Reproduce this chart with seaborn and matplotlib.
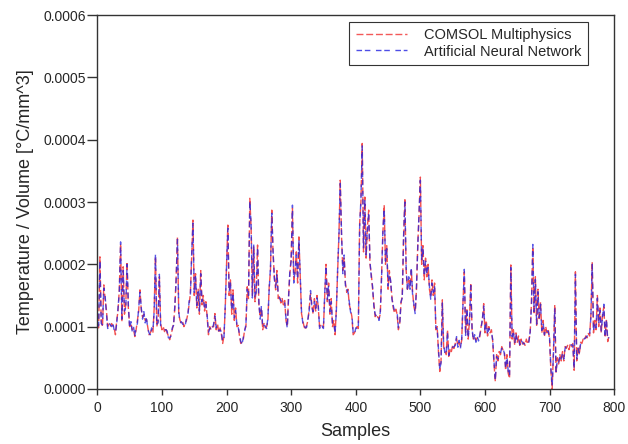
import matplotlib
matplotlib.use("Agg")
import matplotlib.pyplot as plt
import numpy as np
import pandas as pd
import seaborn as sns
from matplotlib.ticker import FormatStrFormatter

SAMPLE_STEP = 2

comsol = [
    1.02, 0.98, 2.12, 1.10, 1.00, 1.67, 1.45, 1.27, 1.00, 1.04,
    1.00, 1.05, 1.02, 0.98, 0.87, 1.10, 1.25, 1.60, 2.33, 1.08,
    1.96, 1.20, 1.35, 2.04, 1.30, 1.00, 1.05, 0.95, 0.97, 0.84,
    0.95, 1.10, 1.25, 1.59, 1.27, 1.15, 1.20, 1.10, 1.12, 1.00,
    0.87, 0.90, 0.95, 0.90, 1.30, 2.12, 1.00, 1.10, 1.80, 1.05,
    0.95, 1.00, 0.92, 0.98, 0.90, 0.85, 0.79, 0.88, 0.95, 1.05,
    1.30, 1.80, 2.44, 1.20, 1.10, 1.05, 1.08, 1.00, 1.05, 1.10,
    1.20, 1.35, 1.53, 2.10, 2.71, 1.50, 1.85, 1.30, 1.60, 1.20,
    1.90, 1.35, 1.50, 1.25, 1.40, 1.15, 0.87, 1.00, 0.95, 1.00,
    1.00, 1.21, 0.95, 1.05, 0.90, 0.98, 0.88, 0.73, 0.85, 1.30,
    2.00, 2.63, 1.50, 1.75, 1.20, 1.59, 1.10, 1.30, 1.00, 1.02,
    0.85, 0.73, 0.75, 0.80, 0.95, 1.00, 1.64, 1.45, 3.06, 2.60,
    1.50, 2.28, 1.40, 1.60, 2.31, 1.35, 1.16, 1.30, 0.95, 1.05,
    0.98, 1.00, 1.10, 1.64, 1.90, 2.87, 2.17, 1.80, 1.59, 1.90,
    1.45, 1.50, 1.38, 1.45, 1.35, 1.42, 1.10, 1.00, 1.50, 1.85,
    2.10, 2.90, 1.75, 1.85, 2.20, 1.70, 2.44, 1.80, 1.21, 1.10,
    1.00, 0.95, 1.02, 1.10, 1.30, 1.53, 1.35, 1.20, 1.45, 1.25,
    1.50, 1.30, 1.00, 1.02, 0.98, 1.00, 1.50, 2.00, 1.40, 1.70,
    1.20, 1.45, 1.00, 1.10, 0.87, 1.30, 1.90, 2.50, 3.35, 2.44,
    1.90, 2.10, 1.70, 1.55, 1.60, 1.35, 1.27, 1.16, 0.87, 0.90,
    0.95, 1.00, 0.97, 2.65, 3.00, 3.94, 2.20, 3.08, 2.10, 2.60,
    2.87, 2.00, 1.85, 1.60, 1.37, 1.16, 1.20, 1.15, 1.13, 1.20,
    1.85, 2.50, 2.95, 2.00, 2.30, 1.60, 1.90, 1.70, 1.48, 1.30,
    1.22, 1.28, 1.20, 0.95, 1.05, 1.37, 1.50, 2.40, 3.06, 1.90,
    1.60, 1.75, 1.65, 1.90, 1.55, 1.32, 1.24, 1.60, 2.33, 2.80,
    3.40, 2.00, 2.30, 1.75, 2.10, 1.80, 2.00, 1.60, 1.48, 1.75,
    1.50, 1.70, 0.95, 1.00, 0.60, 0.28, 0.45, 1.43, 0.68, 0.60,
    0.55, 0.95, 0.50, 0.65, 0.60, 0.70, 0.65, 0.73, 0.81, 0.70,
    0.75, 0.68, 0.78, 1.40, 1.88, 0.90, 1.27, 0.80, 1.10, 1.70,
    0.95, 0.80, 0.84, 0.78, 0.82, 0.80, 0.84, 1.00, 1.10, 1.37,
    0.90, 1.10, 0.85, 1.00, 0.90, 0.95, 0.76, 0.40, 0.12, 0.55,
    0.45, 0.60, 0.55, 0.68, 0.62, 0.60, 0.30, 0.55, 0.25, 0.17,
    1.99, 0.80, 0.95, 0.70, 0.90, 0.75, 0.85, 0.68, 0.80, 0.72,
    0.75, 0.70, 0.80, 0.72, 0.78, 0.90, 1.40, 2.28, 1.20, 1.80,
    1.00, 1.60, 1.10, 1.40, 0.90, 1.10, 0.84, 1.00, 0.90, 0.95,
    0.79, 0.30, 0.00, 0.60, 1.35, 0.25, 0.50, 0.40, 0.55, 0.45,
    0.60, 0.45, 0.68, 0.65, 0.70, 0.63, 0.72, 0.68, 0.73, 0.30,
    1.88, 0.45, 0.68, 0.55, 0.75, 0.73, 0.80, 0.78, 0.85, 0.82,
    0.89, 0.85, 1.20, 2.04, 0.90, 1.10, 0.95, 1.50, 1.00, 1.30,
    0.90, 1.20, 1.32, 0.85, 1.10, 0.76, 0.86,
]

ann = [
    1.00, 1.02, 2.05, 1.05, 1.03, 1.62, 1.50, 1.22, 0.97, 1.06,
    1.03, 1.00, 1.05, 0.95, 0.90, 1.05, 1.30, 1.55, 2.36, 1.12,
    1.90, 1.25, 1.30, 2.00, 1.35, 0.97, 1.08, 0.92, 1.00, 0.86,
    0.98, 1.05, 1.30, 1.55, 1.30, 1.12, 1.24, 1.06, 1.15, 0.97,
    0.90, 0.87, 0.98, 0.93, 1.25, 2.18, 1.04, 1.06, 1.84, 1.00,
    0.98, 0.96, 0.95, 0.95, 0.93, 0.82, 0.82, 0.85, 0.98, 1.02,
    1.35, 1.75, 2.40, 1.25, 1.06, 1.08, 1.04, 1.03, 1.02, 1.14,
    1.16, 1.40, 1.50, 2.15, 2.66, 1.55, 1.80, 1.34, 1.56, 1.25,
    1.85, 1.40, 1.46, 1.30, 1.36, 1.18, 0.90, 0.97, 0.98, 0.97,
    1.04, 1.17, 0.98, 1.02, 0.93, 0.95, 0.91, 0.76, 0.82, 1.35,
    1.95, 2.58, 1.55, 1.70, 1.25, 1.55, 1.14, 1.26, 1.03, 0.99,
    0.88, 0.76, 0.72, 0.83, 0.92, 1.04, 1.60, 1.50, 3.00, 2.65,
    1.46, 2.32, 1.45, 1.56, 2.26, 1.40, 1.12, 1.34, 0.98, 1.02,
    1.01, 0.97, 1.14, 1.60, 1.95, 2.82, 2.22, 1.76, 1.63, 1.86,
    1.50, 1.46, 1.42, 1.40, 1.38, 1.38, 1.14, 0.97, 1.46, 1.90,
    2.05, 2.95, 1.70, 1.90, 2.15, 1.75, 2.40, 1.84, 1.25, 1.06,
    1.03, 0.98, 0.99, 1.13, 1.26, 1.58, 1.31, 1.24, 1.40, 1.29,
    1.46, 1.34, 0.97, 1.05, 1.01, 0.97, 1.55, 1.96, 1.44, 1.66,
    1.24, 1.40, 1.04, 1.06, 0.90, 1.26, 1.95, 2.45, 3.30, 2.50,
    1.85, 2.15, 1.66, 1.60, 1.56, 1.40, 1.23, 1.20, 0.90, 0.87,
    0.98, 0.97, 1.00, 2.60, 3.05, 3.90, 2.25, 3.02, 2.15, 2.55,
    2.82, 2.05, 1.80, 1.65, 1.33, 1.20, 1.16, 1.18, 1.10, 1.24,
    1.80, 2.55, 2.90, 2.05, 2.25, 1.65, 1.85, 1.74, 1.44, 1.34,
    1.25, 1.24, 1.23, 0.98, 1.02, 1.40, 1.46, 2.45, 3.00, 1.95,
    1.56, 1.80, 1.60, 1.94, 1.50, 1.36, 1.20, 1.65, 2.28, 2.85,
    3.35, 2.05, 2.25, 1.80, 2.05, 1.85, 1.95, 1.65, 1.44, 1.70,
    1.55, 1.66, 0.98, 0.97, 0.64, 0.32, 0.42, 1.38, 0.72, 0.57,
    0.58, 0.90, 0.54, 0.62, 0.63, 0.67, 0.68, 0.70, 0.84, 0.67,
    0.78, 0.65, 0.81, 1.35, 1.92, 0.86, 1.30, 0.83, 1.06, 1.66,
    0.98, 0.77, 0.87, 0.75, 0.85, 0.77, 0.87, 0.97, 1.13, 1.33,
    0.93, 1.06, 0.88, 0.97, 0.93, 0.92, 0.79, 0.44, 0.15, 0.52,
    0.48, 0.57, 0.58, 0.65, 0.65, 0.57, 0.34, 0.52, 0.28, 0.20,
    1.95, 0.84, 0.92, 0.73, 0.87, 0.78, 0.82, 0.71, 0.77, 0.75,
    0.72, 0.73, 0.77, 0.75, 0.75, 0.93, 1.36, 2.32, 1.24, 1.76,
    1.04, 1.56, 1.14, 1.36, 0.94, 1.06, 0.87, 0.97, 0.93, 0.92,
    0.82, 0.34, 0.04, 0.56, 1.30, 0.28, 0.47, 0.43, 0.52, 0.48,
    0.57, 0.48, 0.65, 0.68, 0.67, 0.66, 0.69, 0.71, 0.70, 0.34,
    1.84, 0.48, 0.65, 0.58, 0.72, 0.76, 0.77, 0.81, 0.82, 0.85,
    0.86, 0.88, 1.16, 2.00, 0.94, 1.06, 0.98, 1.46, 1.04, 1.26,
    0.93, 1.16, 1.36, 0.82, 1.13, 0.79, 0.83,
]

x_ticks = [0, 100, 200, 300, 400, 500, 600, 700, 800]
y_ticks = [0.0, 0.0001, 0.0002, 0.0003, 0.0004, 0.0005, 0.0006]

samples = np.arange(len(comsol)) * SAMPLE_STEP
df = pd.DataFrame({
    "sample": samples,
    "comsol": np.array(comsol) * 1e-4,
    "ann": np.array(ann) * 1e-4,
})

sns.set_style("ticks")
plt.rcParams["font.family"] = ["Liberation Sans", "DejaVu Sans"]

fig, ax = plt.subplots(figsize=(6.28, 4.44), dpi=100)
fig.subplots_adjust(left=0.155, right=0.978, top=0.966, bottom=0.124)

sns.lineplot(data=df, x="sample", y="comsol", ax=ax, color="#f03030",
             lw=1.0, label="COMSOL Multiphysics", alpha=0.85)
sns.lineplot(data=df, x="sample", y="ann", ax=ax, color="#2020e0",
             lw=1.0, label="Artificial Neural Network", alpha=0.75)
ax.lines[0].set_dashes((5, 2))
ax.lines[1].set_dashes((4, 2, 4, 4))

ax.set_xlim(0, 800)
ax.set_ylim(0, 0.0006)
ax.set_xticks(x_ticks)
ax.set_yticks(y_ticks)
ax.yaxis.set_major_formatter(FormatStrFormatter("%.4f"))
ax.tick_params(axis="x", labelsize=10, length=4.5, width=1, pad=4,
               color="#333333")
ax.tick_params(axis="y", labelsize=10, length=7, width=1, pad=1,
               color="#333333")
ax.set_xlabel("Samples", fontsize=13, labelpad=6)
ax.set_ylabel("Temperature / Volume [°C/mm^3]", fontsize=13, labelpad=7)
for sp in ax.spines.values():
    sp.set_color("#333333")
    sp.set_linewidth(1.0)

leg = ax.legend(loc="upper right", bbox_to_anchor=(0.95, 0.982),
                borderaxespad=0, fontsize=10.5, handlelength=3.5,
                frameon=True, fancybox=False, framealpha=1,
                edgecolor="#333333", borderpad=0.45, labelspacing=0.15,
                handletextpad=1.2)
leg.get_frame().set_linewidth(0.8)
for h in leg.get_lines():
    h.set_alpha(0.8)

fig.savefig("out.png", dpi=100)
